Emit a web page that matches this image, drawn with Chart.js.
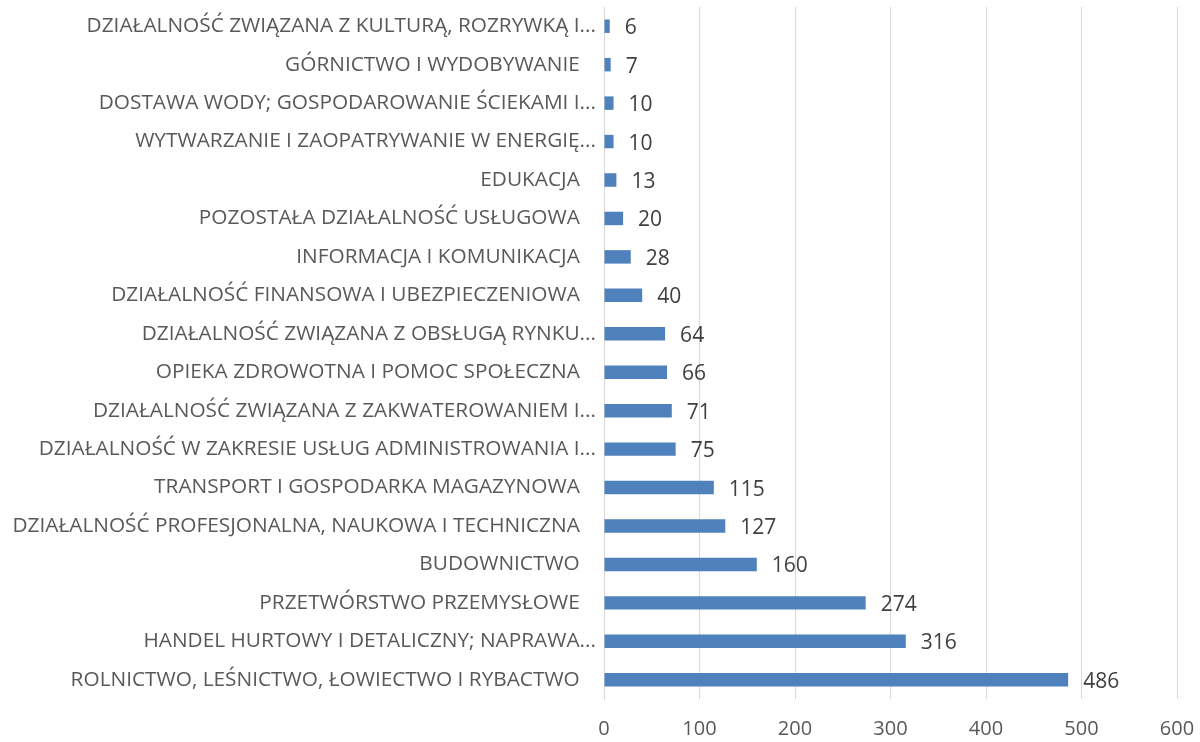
<!DOCTYPE html>
<html>
<head>
<meta charset="utf-8">
<script src="https://cdn.jsdelivr.net/npm/chart.js@4/dist/chart.umd.min.js"></script>
<style>
    html, body { margin: 0; padding: 0; background: #fff; }
    #wrap { width: 1200px; height: 742px; }
</style>
</head>
<body>
<div id="wrap"><canvas id="myChart" width="1200" height="742"></canvas></div>
<script>
// categories top to bottom, as in the picture
const categories = [
    'DZIAŁALNOŚĆ ZWIĄZANA Z KULTURĄ, ROZRYWKĄ I...',
    'GÓRNICTWO I WYDOBYWANIE',
    'DOSTAWA WODY; GOSPODAROWANIE ŚCIEKAMI I...',
    'WYTWARZANIE I ZAOPATRYWANIE W ENERGIĘ...',
    'EDUKACJA',
    'POZOSTAŁA DZIAŁALNOŚĆ USŁUGOWA',
    'INFORMACJA I KOMUNIKACJA',
    'DZIAŁALNOŚĆ FINANSOWA I UBEZPIECZENIOWA',
    'DZIAŁALNOŚĆ ZWIĄZANA Z OBSŁUGĄ RYNKU...',
    'OPIEKA ZDROWOTNA I POMOC SPOŁECZNA',
    'DZIAŁALNOŚĆ ZWIĄZANA Z ZAKWATEROWANIEM I...',
    'DZIAŁALNOŚĆ W ZAKRESIE USŁUG ADMINISTROWANIA I...',
    'TRANSPORT I GOSPODARKA MAGAZYNOWA',
    'DZIAŁALNOŚĆ PROFESJONALNA, NAUKOWA I TECHNICZNA',
    'BUDOWNICTWO',
    'PRZETWÓRSTWO PRZEMYSŁOWE',
    'HANDEL HURTOWY I DETALICZNY; NAPRAWA...',
    'ROLNICTWO, LEŚNICTWO, ŁOWIECTWO I RYBACTWO'
];
const values = [6, 7, 10, 10, 13, 20, 28, 40, 64, 66, 71, 75, 115, 127, 160, 274, 316, 486];
const xTicks = [0, 100, 200, 300, 400, 500, 600];

const fontFamily = "'Open Sans', sans-serif";

// simple value labels at the end of each bar
const valueLabels = {
    id: 'valueLabels',
    afterDatasetsDraw(chart) {
        const ctx = chart.ctx;
        const meta = chart.getDatasetMeta(0);
        ctx.save();
        ctx.font = '21px ' + fontFamily;
        ctx.fillStyle = '#404040';
        ctx.textAlign = 'left';
        ctx.textBaseline = 'middle';
        meta.data.forEach((bar, i) => {
            ctx.fillText(String(values[i]), bar.x + 15, bar.y + 2);
        });
        ctx.restore();
    }
};

const ctx = document.getElementById('myChart').getContext('2d');
new Chart(ctx, {
    type: 'bar',
    data: {
        labels: categories,
        datasets: [{
            data: values,
            backgroundColor: '#4f81bd',
            borderWidth: 0,
            barPercentage: 0.7,
            categoryPercentage: 0.5
        }]
    },
    options: {
        indexAxis: 'y',
        responsive: false,
        animation: false,
        layout: { padding: { top: 7, right: 23, bottom: 0, left: 0 } },
        plugins: {
            legend: { display: false },
            tooltip: { enabled: false }
        },
        scales: {
            x: {
                min: 0,
                max: 600,
                afterBuildTicks: (scale) => { scale.ticks = xTicks.map(v => ({ value: v })); },
                afterFit: (scale) => {
                    scale.height = 43;
                    scale.paddingLeft = 0;
                    scale.paddingRight = 0;
                },
                grid: { color: '#d9d9d9', lineWidth: 1, drawTicks: false },
                border: { display: false },
                ticks: {
                    color: '#595959',
                    font: { family: fontFamily, size: 20 },
                    padding: 18
                }
            },
            y: {
                afterFit: (scale) => {
                    scale.width = 604;
                    scale.paddingTop = 0;
                    scale.paddingBottom = 0;
                },
                grid: { display: false },
                border: { display: true, color: '#d9d9d9', width: 1 },
                ticks: {
                    color: '#595959',
                    font: { family: fontFamily, size: 20.8 },
                    padding: 0,
                    autoSkip: false,
                    // full labels sit a little further from the axis than truncated ones
                    callback: function(value) {
                        const label = this.getLabelForValue(value);
                        return label.endsWith('...') ? label : label + '   ';
                    }
                }
            }
        }
    },
    plugins: [valueLabels]
});
</script>
</body>
</html>
